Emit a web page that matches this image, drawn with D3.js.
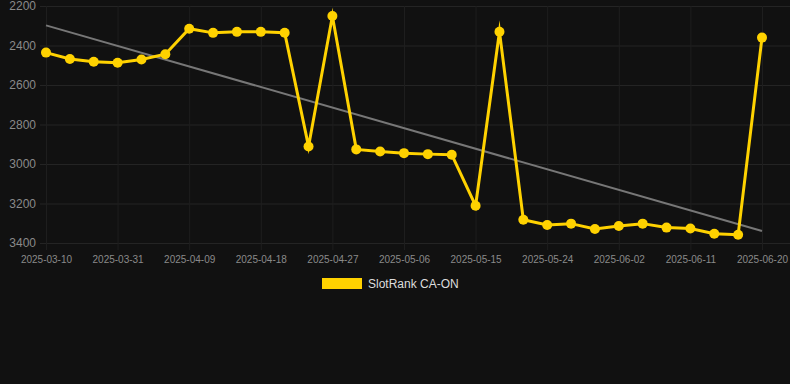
<!DOCTYPE html>
<html>
<head>
<meta charset="utf-8">
<script src="https://cdn.jsdelivr.net/npm/d3@7"></script>
<style>
  html, body { margin: 0; padding: 0; background: #111111; }
  #chart { width: 790px; height: 384px; }
  text { font-family: "Liberation Sans", Arial, sans-serif; }
</style>
</head>
<body>
<div id="chart"></div>
<script>
////////////////////////////////////////////////////////////////////////////////////////
// 데이터
////////////////////////////////////////////////////////////////////////////////////////
var dates = [
	"2025-03-10", "2025-03-25", "2025-03-28", "2025-03-31", "2025-04-03", "2025-04-06",
	"2025-04-09", "2025-04-12", "2025-04-15", "2025-04-18", "2025-04-21", "2025-04-24",
	"2025-04-27", "2025-04-30", "2025-05-03", "2025-05-06", "2025-05-09", "2025-05-12",
	"2025-05-15", "2025-05-18", "2025-05-21", "2025-05-24", "2025-05-27", "2025-05-30",
	"2025-06-02", "2025-06-05", "2025-06-08", "2025-06-11", "2025-06-14", "2025-06-17",
	"2025-06-20"
];
var ranks = [
	2436, 2468, 2482, 2487, 2471, 2444,
	2315, 2336, 2331, 2331, 2335, 2911,
	2251, 2926, 2937, 2945, 2950, 2953,
	3211, 2330, 3282, 3309, 3302, 3329,
	3314, 3302, 3322, 3327, 3353, 3358,
	2360
];
var trendEnds = [2298, 3339];   // 추세선 시작 / 끝 값
var yTicks = [2200, 2400, 2600, 2800, 3000, 3200, 3400];
var seriesName = "SlotRank CA-ON";

////////////////////////////////////////////////////////////////////////////////////////
// 차트
////////////////////////////////////////////////////////////////////////////////////////
function drawRankChart() {
	var width = 790, height = 384;
	var plot = {left: 40, right: 790, top: 6, bottom: 243};

	var svg = d3.select("#chart")
		.append("svg")
		.attr("width", width)
		.attr("height", height);

	svg.append("rect")
		.attr("width", width)
		.attr("height", height)
		.attr("fill", "#111111");

	var x = d3.scalePoint().domain(dates).range([46, 762]);
	var y = d3.scaleLinear().domain([2200, 3400]).range([plot.top, plot.bottom]);

	var tickDates = dates.filter(function (d, i) { return i % 3 === 0; });

	// 가로 그리드 + y축
	var yAxis = d3.axisLeft(y)
		.tickValues(yTicks)
		.tickFormat(d3.format("d"))
		.tickSize(-(plot.right - plot.left))
		.tickPadding(4);
	var gy = svg.append("g")
		.attr("transform", "translate(" + plot.left + ",0)")
		.call(yAxis);
	gy.select(".domain").remove();
	gy.selectAll("line").attr("stroke", "#242424").attr("stroke-width", 1);
	gy.selectAll("text")
		.attr("fill", "#8a8a8a")
		.style("font-size", "12px");

	// 세로 그리드 + x축
	var xAxis = d3.axisBottom(x)
		.tickValues(tickDates)
		.tickSize(-(plot.bottom - plot.top) - 7)
		.tickPadding(6);
	var gx = svg.append("g")
		.attr("transform", "translate(0," + (plot.bottom + 7) + ")")
		.call(xAxis);
	gx.select(".domain").remove();
	gx.selectAll("line").attr("stroke", "#1e1e1e").attr("stroke-width", 1);
	gx.selectAll("text")
		.attr("fill", "#8a8a8a")
		.style("font-size", "10px");

	// 추세선
	svg.append("line")
		.attr("x1", x(dates[0]))
		.attr("y1", y(trendEnds[0]))
		.attr("x2", x(dates[dates.length - 1]))
		.attr("y2", y(trendEnds[1]))
		.attr("stroke", "#777777")
		.attr("stroke-width", 2);

	// 랭크 라인
	var line = d3.line()
		.x(function (d, i) { return x(dates[i]); })
		.y(function (d) { return y(d); });

	svg.append("path")
		.datum(ranks)
		.attr("d", line)
		.attr("fill", "none")
		.attr("stroke", "#FFD200")
		.attr("stroke-width", 3)
		.attr("stroke-linejoin", "miter")
		.attr("stroke-miterlimit", 10);

	svg.selectAll(".dot")
		.data(ranks)
		.join("circle")
		.attr("class", "dot")
		.attr("cx", function (d, i) { return x(dates[i]); })
		.attr("cy", function (d) { return y(d); })
		.attr("r", 5)
		.attr("fill", "#FFD200");

	// 범례
	var legend = svg.append("g").attr("transform", "translate(322,278)");
	legend.append("rect")
		.attr("width", 40)
		.attr("height", 11)
		.attr("fill", "#FFD200");
	legend.append("text")
		.attr("x", 46)
		.attr("y", 10)
		.attr("fill", "#dddddd")
		.style("font-size", "12px")
		.text(seriesName);
}

drawRankChart();
</script>
</body>
</html>
